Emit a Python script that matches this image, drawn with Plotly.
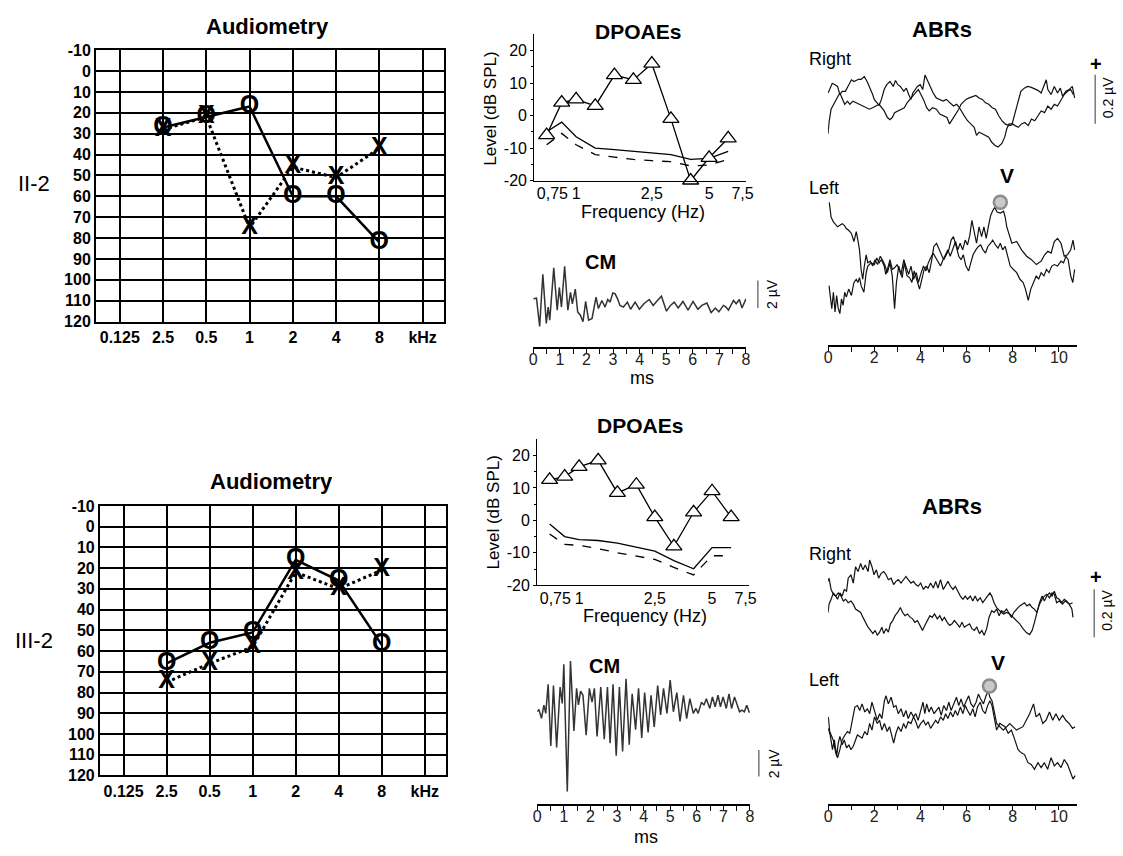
import plotly.graph_objects as go

W, H = 1123, 856
FONT = "Liberation Sans, Arial, Helvetica, sans-serif"

# ------------------------------------------------------------------ data
aud_freq_labels = ["0.125", "2.5", "0.5", "1", "2", "4", "8", "kHz"]
aud_test_freqs = ["2.5", "0.5", "1", "2", "4", "8"]
aud_db_ticks = list(range(-10, 121, 10))
II2_right_O = [27, 22, 17, 60, 60, 82]
II2_left_X = [28, 22, 75, 46, 51, 37]
III2_right_O = [66, 56, 51, 16, 26, 57]
III2_left_X = [75, 66, 58, 22, 30, 21]

dp_freq = [0.70, 0.84, 1.0, 1.26, 1.59, 2.0, 2.5, 3.15, 4.0, 5.0, 6.3]
dp_tick_vals = [0.75, 1, 2.5, 5, 7.5]
dp_tick_text = ["0,75", "1", "2,5", "5", "7,5"]
dp_level_ticks = [-20, -10, 0, 10, 20]
II2_dp = [-6, 4, 5, 3, 12.5, 11, 16, -1, -20, -13, -7]
II2_noise = [-5, -2, -6.5, -10, -10.5, -11, -11.5, -12, -13.5, -13.2, -11]
II2_noise_floor = [-9, -5.5, -9, -12, -12.8, -13.5, -13.9, -14.2, -15.5, -15.2, -13.5]
III2_dp = [12.5, 13.5, 16.5, 18.5, 8.5, 11, 1, -8, 2.5, 9, 1]
III2_noise = [-1.1, -5, -5.9, -6.2, -7, -8.2, -9.5, -12.4, -14.9, -8.4, -8.4]
III2_noise_floor = [-4.2, -7.4, -7.7, -8.7, -10, -11, -12, -14.5, -16.8, -10.9, -10.9]

II2_cm_ms = [0, 0.12, 0.24, 0.36, 0.49, 0.56, 0.62, 0.77, 0.9, 0.98, 1.06, 1.18, 1.3, 1.4, 1.47,
             1.58, 1.67, 1.77, 1.87, 1.97, 2.08, 2.21, 2.36, 2.45, 2.58, 2.7, 2.8, 2.89, 2.99, 3.08,
             3.17, 3.26, 3.39, 3.54, 3.66, 3.83, 3.99, 4.16, 4.36, 4.51, 4.67, 4.82, 5.01, 5.16, 5.3,
             5.45, 5.63, 5.82, 6.01, 6.19, 6.34, 6.53, 6.69, 6.85, 6.98, 7.15, 7.25, 7.34, 7.53, 7.63,
             7.75, 7.85, 8.0]
II2_cm_uv = [0, 0.05, -2.02, 1.79, -1.79, -0.6, -1.55, 2.26, -0.83, 0.83, -0.6, 2.38, -0.83, 0.48, -0.36,
             0.71, -0.95, -1.19, -1.67, -0.19, -1.55, -1.43, 0.12, -0.71, -0.12, -0.6, -0.05, -0.24, 0.43, 0.36,
             0, -0.48, -0.6, -0.24, -0.76, -0.24, -0.76, -0.36, -0.05, -0.48, -0.12, 0.19, -0.9, -0.48, -0.24,
             -0.67, -0.19, -0.83, -0.19, -0.76, -0.48, -0.31, -1.0, -0.67, -0.95, -0.48, -0.6, -0.83, -0.12, -0.36,
             -0.05, -0.67, 0]

III2_cm_ms = [0, 0.06, 0.16, 0.25, 0.32, 0.41, 0.51, 0.61, 0.73, 0.86, 0.94, 1.0, 1.13, 1.25, 1.38,
              1.48, 1.55, 1.63, 1.72, 1.84, 1.96, 2.06, 2.15, 2.25, 2.39, 2.52, 2.64, 2.74, 2.85, 2.97,
              3.09, 3.21, 3.34, 3.46, 3.57, 3.7, 3.81, 3.93, 4.04, 4.17, 4.28, 4.4, 4.53, 4.64, 4.75,
              4.88, 5.0, 5.12, 5.25, 5.37, 5.5, 5.62, 5.74, 5.87, 5.97, 6.05, 6.18, 6.27, 6.36, 6.49,
              6.59, 6.69, 6.8, 6.89, 6.99, 7.11, 7.21, 7.31, 7.42, 7.51, 7.61, 7.7, 7.79, 7.88, 7.98]
III2_cm_uv = [0, 0.17, -0.48, 0.48, -0.12, 2.0, -2.5, 1.9, -2.6, 1.8, 0.6, 3.45, -5.8, 3.7, -1.4,
              1.7, 0.5, 1.5, 1.2, -1.7, 1.7, 0.7, 1.7, -1.8, 1.8, -2.0, 1.8, -2.3, 2.0, -3.2,
              1.8, -2.9, 2.4, -2.4, 1.3, -1.3, 1.7, -1.9, 1.4, -1.5, 1.2, -1.1, 1.9, -0.24, 1.7,
              -0.12, 2.3, 0, 1.4, -0.7, 1.2, -0.5, 0.95, -0.12, 0.24, -0.12, 0.7, 0.48, 0.95, 0.24,
              1.07, 0.36, 1.2, 0.36, 1.07, 0.24, 1.3, 0.24, 1.07, 0.48, 0, 0.12, 0, 0.48, -0.07]

# ABR traces (ms, uV)
II2_right_a_ms = [0, 0.04, 0.13, 0.23, 0.33, 0.41, 0.51, 0.61, 0.72, 0.84, 0.94, 1.08, 1.22, 1.36, 1.5,
                  1.65, 1.79, 1.93, 2.07, 2.21, 2.43, 2.57, 2.68, 2.78, 2.88, 3.02, 3.16, 3.3, 3.42, 3.53,
                  3.63, 3.77, 3.91, 4.03, 4.13, 4.27, 4.38, 4.52, 4.69, 4.84, 4.98, 5.15, 5.26, 5.4, 5.55,
                  5.66, 5.76, 5.83, 5.97, 6.11, 6.26, 6.4, 6.54, 6.68, 6.82, 6.96, 7.11, 7.25, 7.39, 7.53,
                  7.67, 7.82, 7.96, 8.03, 8.13, 8.24, 8.35, 8.5, 8.64, 8.78, 8.95, 9.09, 9.23, 9.35, 9.45,
                  9.52, 9.66, 9.8, 9.94, 10.06, 10.16, 10.3, 10.44, 10.58, 10.68]
II2_right_a_uv = [-0.153, -0.107, -0.053, -0.033, -0.02, -0.003, 0.013, -0.007, -0.033, -0.02, -0.033, -0.02, -0.027, -0.033, -0.04,
                  -0.047, -0.053, -0.047, -0.04, -0.033, -0.06, -0.087, -0.096, -0.087, -0.067, -0.06, -0.053, -0.047, -0.027, -0.013,
                  0, 0.013, 0.027, 0.007, -0.013, -0.047, -0.06, -0.047, -0.053, -0.073, -0.08, -0.087, -0.113, -0.093, -0.073,
                  -0.053, -0.033, -0.027, -0.013, -0.007, -0.003, 0.003, -0.007, -0.013, -0.027, -0.033, -0.047, -0.053, -0.08, -0.1,
                  -0.113, -0.12, -0.117, -0.093, -0.053, -0.013, 0.02, 0.033, 0.04, 0.037, 0.029, 0.024, 0.013, 0.04, 0.067,
                  0.027, 0.007, 0.04, 0.013, 0.033, 0, 0.02, 0.027, 0.04, -0.007]
II2_right_b_ms = [0, 0.09, 0.18, 0.3, 0.41, 0.51, 0.61, 0.75, 0.87, 1.01, 1.12, 1.22, 1.32, 1.43, 1.57,
                  1.69, 1.79, 1.93, 2.0, 2.11, 2.21, 2.31, 2.43, 2.54, 2.68, 2.82, 2.92, 3.02, 3.13, 3.28,
                  3.39, 3.49, 3.59, 3.67, 3.77, 3.87, 3.99, 4.1, 4.2, 4.3, 4.41, 4.55, 4.69, 4.84, 4.98,
                  5.12, 5.26, 5.43, 5.57, 5.69, 5.9, 6.04, 6.18, 6.33, 6.43, 6.54, 6.68, 6.82, 6.96, 7.08,
                  7.22, 7.36, 7.53, 7.65, 7.74, 7.84, 7.99, 8.1, 8.24, 8.38, 8.52, 8.67, 8.81, 8.95, 9.09,
                  9.23, 9.38, 9.52, 9.66, 9.8, 9.94, 10.09, 10.23, 10.37, 10.51, 10.62]
II2_right_b_uv = [0.013, 0.033, 0.053, 0.047, 0.04, 0.007, 0.02, 0.02, 0.04, 0.067, 0.06, 0.064, 0.069, 0.069, 0.08,
                  0.06, 0.04, 0.007, -0.013, -0.027, -0.037, -0.013, 0.027, 0.047, 0.06, 0.04, 0.064, 0.047, 0.04, 0.02,
                  0.033, 0.007, -0.013, 0.013, 0.027, 0.04, 0.047, 0.027, 0.087, 0.067, 0.04, 0.013, -0.007, -0.013, -0.02,
                  -0.013, -0.027, -0.04, -0.033, -0.047, -0.08, -0.1, -0.113, -0.127, -0.16, -0.147, -0.153, -0.16, -0.167, -0.187,
                  -0.2, -0.207, -0.193, -0.167, -0.133, -0.113, -0.113, -0.12, -0.127, -0.113, -0.107, -0.12, -0.093, -0.1, -0.08,
                  -0.06, -0.067, -0.04, -0.053, -0.033, -0.04, -0.013, 0.007, 0.02, 0.027, 0.007]

II2_left_a_ms = [0.05, 0.13, 0.23, 0.3, 0.41, 0.51, 0.61, 0.7, 0.79, 0.89, 1.01, 1.12, 1.22, 1.29, 1.36,
                 1.43, 1.5, 1.57, 1.65, 1.72, 1.83, 1.93, 2.03, 2.14, 2.26, 2.35, 2.45, 2.57, 2.68, 2.78,
                 2.88, 2.96, 3.06, 3.16, 3.28, 3.39, 3.49, 3.59, 3.7, 3.82, 3.91, 4.01, 4.13, 4.24, 4.34,
                 4.44, 4.55, 4.67, 4.77, 4.87, 4.98, 5.09, 5.19, 5.29, 5.4, 5.52, 5.62, 5.72, 5.83, 5.94,
                 6.04, 6.14, 6.23, 6.33, 6.43, 6.54, 6.65, 6.75, 6.85, 6.94, 7.04, 7.13, 7.22, 7.32, 7.46,
                 7.6, 7.67, 7.74, 7.84, 7.96, 8.17, 8.38, 8.6, 8.81, 9.02, 9.23, 9.38, 9.52, 9.66, 9.8,
                 9.94, 10.09, 10.23, 10.37, 10.51, 10.61, 10.68]
II2_left_a_uv = [0.287, 0.227, 0.207, 0.2, 0.187, 0.193, 0.2, 0.193, 0.18, 0.173, 0.16, 0.127, 0.167, 0.133, 0.093,
                 0.013, -0.027, 0.027, 0.073, 0.04, 0.047, 0.027, 0.053, 0.033, 0.067, 0.053, 0.033, 0, 0.04, -0.013,
                 -0.147, -0.04, 0.027, -0.007, 0.053, 0.02, -0.007, 0.027, -0.027, 0, -0.04, -0.007, 0.027, 0.007, 0.04,
                 0.06, 0.08, 0.06, 0.04, 0.027, 0.053, 0.073, 0.093, 0.067, 0.1, 0.127, 0.093, 0.12, 0.093, 0.133,
                 0.113, 0.153, 0.213, 0.16, 0.12, 0.187, 0.147, 0.187, 0.14, 0.187, 0.233, 0.253, 0.267, 0.247, 0.243,
                 0.251, 0.227, 0.187, 0.16, 0.12, 0.127, 0.093, 0.067, 0.053, 0.033, 0.047, 0.073, 0.087, 0.08, 0.127,
                 0.14, 0.12, 0.067, 0.073, 0.093, 0.133, 0.093]
II2_left_b_ms = [0.04, 0.09, 0.16, 0.23, 0.3, 0.37, 0.44, 0.51, 0.58, 0.65, 0.72, 0.79, 0.89, 1.01, 1.12,
                 1.22, 1.29, 1.36, 1.43, 1.55, 1.65, 1.72, 1.86, 2.0, 2.11, 2.21, 2.31, 2.43, 2.5, 2.57,
                 2.68, 2.78, 2.88, 2.99, 3.11, 3.21, 3.3, 3.42, 3.53, 3.63, 3.73, 3.84, 3.96, 4.06, 4.16,
                 4.27, 4.38, 4.48, 4.58, 4.7, 4.81, 4.91, 5.01, 5.12, 5.23, 5.33, 5.43, 5.55, 5.66, 5.76,
                 5.86, 5.97, 6.09, 6.18, 6.28, 6.4, 6.51, 6.61, 6.71, 6.82, 6.92, 7.04, 7.13, 7.25, 7.36,
                 7.46, 7.56, 7.67, 7.79, 7.89, 8.03, 8.17, 8.31, 8.45, 8.55, 8.67, 8.78, 8.89, 9.02, 9.12,
                 9.23, 9.35, 9.46, 9.57, 9.69, 9.8, 9.94, 10.09, 10.2, 10.3, 10.4, 10.51, 10.6, 10.68]
II2_left_b_uv = [-0.053, -0.093, -0.147, -0.08, -0.16, -0.093, -0.147, -0.167, -0.107, -0.133, -0.08, -0.1, -0.067, -0.093, -0.04,
                 -0.027, -0.04, -0.02, -0.053, -0.08, 0, 0.027, 0.04, 0.033, 0.06, 0.04, 0.053, 0.027, -0.007, 0.013,
                 0.053, 0.013, 0.02, 0.033, 0, -0.02, 0.04, -0.013, -0.02, -0.04, 0.007, -0.027, -0.067, -0.027, 0.013,
                 0.027, 0, 0.047, 0.107, 0.12, 0.093, 0.073, 0.053, 0.073, 0.093, 0.133, 0.147, 0.107, 0.067, 0.053,
                 0.073, 0.027, 0.007, 0.04, 0.073, 0.093, 0.107, 0.113, 0.093, 0.08, 0.107, 0.12, 0.133, 0.113, 0.1,
                 0.12, 0.093, 0.107, 0.067, 0.027, 0.013, 0, -0.027, -0.04, -0.067, -0.113, -0.067, -0.04, -0.013, -0.027,
                 0, -0.013, 0.013, 0, 0.027, 0.033, 0.027, 0.047, 0.04, 0.067, 0.053, -0.013, -0.04, 0.013]

III2_right_a_ms = [0, 0.04, 0.13, 0.23, 0.33, 0.41, 0.51, 0.61, 0.7, 0.8, 0.87, 0.99, 1.09, 1.19, 1.3,
                   1.41, 1.51, 1.61, 1.73, 1.8, 1.9, 1.99, 2.09, 2.19, 2.3, 2.41, 2.51, 2.61, 2.73, 2.84,
                   2.94, 3.04, 3.16, 3.27, 3.37, 3.47, 3.59, 3.7, 3.8, 3.9, 4.01, 4.13, 4.23, 4.33, 4.44,
                   4.56, 4.66, 4.76, 4.87, 4.99, 5.09, 5.19, 5.3, 5.41, 5.51, 5.61, 5.73, 5.84, 5.94, 6.04,
                   6.16, 6.27, 6.37, 6.47, 6.59, 6.7, 6.8, 6.9, 7.01, 7.09, 7.19, 7.3, 7.41, 7.51, 7.61,
                   7.73, 7.87, 8.01, 8.16, 8.3, 8.44, 8.59, 8.73, 8.84, 8.94, 9.04, 9.16, 9.27, 9.37, 9.47,
                   9.59, 9.7, 9.8, 9.9, 10.01, 10.13, 10.23, 10.33, 10.44, 10.56, 10.61]
III2_right_a_uv = [-0.067, -0.033, -0.013, 0.013, 0, -0.013, 0.013, 0, 0.027, 0.02, 0.073, 0.087, 0.053, 0.12, 0.1,
                   0.133, 0.107, 0.127, 0.1, 0.147, 0.12, 0.087, 0.107, 0.073, 0.093, 0.1, 0.087, 0.067, 0.073, 0.047,
                   0.06, 0.067, 0.053, 0.067, 0.08, 0.067, 0.053, 0.06, 0.047, 0.04, 0.053, 0.027, 0.04, 0.033, 0.053,
                   0.033, 0.06, 0.033, 0.067, 0.027, 0.047, 0.06, 0.04, 0.027, 0.04, 0.02, 0, -0.013, 0, -0.013,
                   0, -0.02, 0, -0.02, -0.007, -0.027, -0.013, 0, 0.013, 0, -0.027, -0.047, -0.06, -0.067, -0.073,
                   -0.067, -0.073, -0.087, -0.1, -0.113, -0.133, -0.149, -0.157, -0.14, -0.107, -0.067, -0.027, 0, -0.02, 0,
                   0.013, 0, 0.02, -0.007, -0.013, -0.027, -0.013, -0.02, -0.033, -0.053, -0.087]
III2_right_b_ms = [0, 0.04, 0.13, 0.23, 0.33, 0.44, 0.56, 0.66, 0.76, 0.87, 0.99, 1.09, 1.19, 1.3, 1.41,
                   1.51, 1.61, 1.73, 1.84, 1.94, 2.04, 2.13, 2.23, 2.33, 2.41, 2.51, 2.61, 2.7, 2.8, 2.9,
                   3.01, 3.13, 3.23, 3.33, 3.44, 3.56, 3.66, 3.76, 3.87, 3.99, 4.09, 4.19, 4.3, 4.41, 4.51,
                   4.61, 4.73, 4.84, 4.94, 5.04, 5.16, 5.27, 5.37, 5.47, 5.59, 5.7, 5.8, 5.9, 6.01, 6.13,
                   6.23, 6.33, 6.44, 6.56, 6.66, 6.76, 6.87, 6.97, 7.09, 7.19, 7.3, 7.41, 7.51, 7.61, 7.73,
                   7.84, 7.94, 8.04, 8.16, 8.3, 8.41, 8.51, 8.61, 8.73, 8.84, 8.94, 9.04, 9.16, 9.27, 9.37,
                   9.47, 9.59, 9.7, 9.8, 9.9, 10.01, 10.16, 10.27, 10.37, 10.47, 10.59]
III2_right_b_uv = [0.06, 0.073, 0.027, 0.007, 0, 0.013, 0, -0.02, -0.013, -0.027, -0.02, -0.033, -0.053, -0.06, -0.067,
                   -0.087, -0.107, -0.127, -0.14, -0.153, -0.14, -0.16, -0.147, -0.127, -0.153, -0.133, -0.147, -0.113, -0.1, -0.08,
                   -0.067, -0.047, -0.067, -0.08, -0.073, -0.087, -0.093, -0.107, -0.1, -0.12, -0.14, -0.12, -0.1, -0.08, -0.087,
                   -0.073, -0.093, -0.08, -0.1, -0.087, -0.107, -0.12, -0.113, -0.1, -0.113, -0.127, -0.107, -0.127, -0.12, -0.113,
                   -0.133, -0.14, -0.127, -0.153, -0.14, -0.16, -0.133, -0.087, -0.06, -0.067, -0.053, -0.08, -0.06, -0.067, -0.053,
                   -0.073, -0.087, -0.067, -0.053, -0.04, -0.033, -0.027, -0.04, -0.033, -0.047, -0.053, -0.067, -0.033, -0.013, 0,
                   0.007, -0.007, 0.013, 0.007, -0.027, -0.02, -0.033, -0.02, -0.027, -0.033, -0.027]

III2_left_a_ms = [0.01, 0.07, 0.16, 0.24, 0.33, 0.41, 0.51, 0.61, 0.73, 0.84, 0.94, 1.04, 1.16, 1.27, 1.37,
                  1.47, 1.59, 1.7, 1.8, 1.9, 2.01, 2.13, 2.23, 2.33, 2.44, 2.51, 2.61, 2.73, 2.84, 2.94,
                  3.04, 3.16, 3.27, 3.37, 3.47, 3.59, 3.7, 3.8, 3.9, 4.01, 4.11, 4.19, 4.27, 4.37, 4.47,
                  4.59, 4.7, 4.8, 4.9, 5.01, 5.13, 5.23, 5.33, 5.44, 5.56, 5.66, 5.76, 5.87, 5.99, 6.09,
                  6.19, 6.3, 6.41, 6.51, 6.61, 6.73, 6.84, 6.94, 7.01, 7.1, 7.19, 7.3, 7.59, 7.87, 8.16,
                  8.44, 8.73, 8.9, 9.01, 9.16, 9.3, 9.44, 9.59, 9.73, 9.87, 10.01, 10.16, 10.3, 10.44, 10.59,
                  10.7]
III2_left_a_uv = [0.067, 0.007, -0.013, -0.033, -0.08, -0.1, -0.067, -0.027, -0.007, 0.007, 0, 0.053, 0.107, 0.113, 0.093,
                  0.12, 0.087, 0.1, 0.08, 0.127, 0.093, 0.053, 0.08, 0.06, 0.133, 0.153, 0.12, 0.147, 0.107, 0.113,
                  0.08, 0.1, 0.067, 0.093, 0.06, 0.087, 0.067, 0.08, 0.053, 0.093, 0.127, 0.08, 0.12, 0.087, 0.107,
                  0.08, 0.093, 0.107, 0.073, 0.113, 0.093, 0.127, 0.093, 0.12, 0.147, 0.113, 0.14, 0.107, 0.133, 0.153,
                  0.12, 0.107, 0.127, 0.16, 0.14, 0.12, 0.153, 0.173, 0.147, 0.133, 0.093, 0.04, 0.013, 0.04, 0.013,
                  0.027, 0.08, 0.12, 0.067, 0.08, 0.04, 0.053, 0.087, 0.053, 0.08, 0.053, 0.073, 0.053, 0.04, 0.02,
                  0.027]
III2_left_b_ms = [0.01, 0.09, 0.19, 0.27, 0.37, 0.44, 0.51, 0.61, 0.7, 0.8, 0.9, 0.99, 1.09, 1.19, 1.27,
                  1.37, 1.47, 1.59, 1.7, 1.8, 1.9, 2.01, 2.13, 2.23, 2.33, 2.44, 2.56, 2.66, 2.76, 2.84,
                  2.94, 3.04, 3.16, 3.27, 3.37, 3.47, 3.59, 3.7, 3.8, 3.9, 4.01, 4.13, 4.23, 4.33, 4.44,
                  4.56, 4.66, 4.76, 4.87, 4.99, 5.09, 5.19, 5.3, 5.41, 5.51, 5.61, 5.73, 5.84, 5.94, 6.04,
                  6.16, 6.27, 6.37, 6.47, 6.59, 6.7, 6.81, 6.91, 7.01, 7.1, 7.19, 7.3, 7.44, 7.66, 7.8,
                  7.94, 8.09, 8.23, 8.37, 8.51, 8.66, 8.8, 8.94, 9.09, 9.23, 9.37, 9.51, 9.66, 9.8, 9.94,
                  10.09, 10.23, 10.37, 10.51, 10.61, 10.7]
III2_left_b_uv = [0.02, -0.007, -0.067, -0.027, -0.093, -0.04, -0.013, -0.047, -0.027, -0.06, -0.047, -0.067, -0.053, -0.027, -0.007,
                  -0.013, -0.02, 0.007, -0.007, 0.04, 0.013, 0.067, 0.04, 0.053, 0.013, 0.04, 0.007, 0.027, -0.013, -0.04,
                  0, 0.027, 0.007, 0.04, 0.02, 0.047, 0.04, 0.067, 0.047, 0.02, 0.04, 0.053, 0.033, 0.047, 0.02,
                  0.04, 0.053, 0.04, 0.067, 0.053, 0.08, 0.06, 0.087, 0.067, 0.093, 0.073, 0.107, 0.08, 0.113, 0.093,
                  0.073, 0.1, 0.067, 0.107, 0.127, 0.093, 0.08, 0.113, 0.133, 0.113, 0.073, 0.013, 0.04, 0.027, 0,
                  0.013, -0.027, -0.067, -0.08, -0.087, -0.12, -0.127, -0.147, -0.12, -0.14, -0.12, -0.147, -0.1, -0.133, -0.12,
                  -0.14, -0.107, -0.127, -0.16, -0.187, -0.173]

wave_V_ms = [7.46, 6.99]      # II-2, III-2 (left ear)
wave_V_uv = [0.287, 0.193]

# ------------------------------------------------------------------ helpers (page pixels -> paper)
def px(x):
    return x / W


def py(y):
    return 1 - y / H


def dx(a, b):
    return [px(a), px(b)]


def dy(top, bottom):
    return [py(bottom), py(top)]


fig = go.Figure()
annotations = []
shapes = []


def ann(text, x, y, size, bold=False, angle=0, xanchor="center", color="black"):
    annotations.append(dict(text=text, x=px(x), y=py(y), xref="paper", yref="paper",
                            showarrow=False, xanchor=xanchor, yanchor="middle", textangle=angle,
                            font=dict(family=FONT, size=size, color=color,
                                      weight="bold" if bold else "normal")))


layout = dict(width=W, height=H, margin=dict(l=0, r=0, t=0, b=0, pad=0),
              paper_bgcolor="white", plot_bgcolor="white", showlegend=False,
              font=dict(family=FONT, color="black"))

# ------------------------------------------------------------------ audiograms
aud_x = [aud_freq_labels.index(f) for f in aud_test_freqs]
aud_boxes = [(93, 445, 43, 320), (97, 447, 508, 783)]
aud_sets = [(II2_right_O, II2_left_X), (III2_right_O, III2_left_X)]
for i, (box, (ovals, xvals)) in enumerate(zip(aud_boxes, aud_sets)):
    n = "" if i == 0 else str(i + 1)
    xa, ya = "x" + n, "y" + n
    layout["xaxis" + n] = dict(domain=dx(box[0], box[1]), anchor=ya, range=[-0.55, 7.5],
                               tickvals=list(range(len(aud_freq_labels))), ticktext=aud_freq_labels,
                               showgrid=True, gridcolor="black", gridwidth=2, zeroline=False,
                               showline=True, linecolor="black", linewidth=2, mirror=True, ticks="",
                               tickfont=dict(family=FONT, size=16, color="black", weight="bold"))
    layout["yaxis" + n] = dict(domain=dy(box[2], box[3]), anchor=xa, range=[120, -10],
                               tickvals=aud_db_ticks, ticktext=[str(v) for v in aud_db_ticks],
                               showgrid=True, gridcolor="black", gridwidth=2, zeroline=False,
                               showline=True, linecolor="black", linewidth=2, mirror=True, ticks="",
                               tickfont=dict(family=FONT, size=16, color="black", weight="bold"))
    fig.add_trace(go.Scatter(x=aud_x, y=xvals, mode="lines+text", text=["X"] * len(xvals),
                             textposition="middle center", cliponaxis=False,
                             textfont=dict(family=FONT, size=25, color="black", weight="bold"),
                             line=dict(color="black", width=3, dash="dot"), xaxis=xa, yaxis=ya))
    fig.add_trace(go.Scatter(x=aud_x, y=ovals, mode="lines+text", text=["O"] * len(ovals),
                             textposition="middle center", cliponaxis=False,
                             textfont=dict(family=FONT, size=25, color="black", weight="bold"),
                             line=dict(color="black", width=2.5), xaxis=xa, yaxis=ya))

ann("Audiometry", 266, 19, 22, bold=True)
ann("Audiometry", 270, 483, 22, bold=True)
ann("II-2", 30, 179, 22)
ann("III-2", 30, 645, 22)

# ------------------------------------------------------------------ DPOAEs
dp_boxes = [(536, 750, 27, 176, "3"), (539, 753, 440, 589, "5")]
dp_sets = [(II2_dp, II2_noise, II2_noise_floor), (III2_dp, III2_noise, III2_noise_floor)]
for box, (dpv, nz, nzf) in zip(dp_boxes, dp_sets):
    n = box[4]
    xa, ya = "x" + n, "y" + n
    layout["xaxis" + n] = dict(domain=dx(box[0], box[1]), anchor=ya, type="log", range=[-0.22, 0.893],
                               tickvals=dp_tick_vals, ticktext=dp_tick_text, showgrid=False,
                               zeroline=False, showline=True, linecolor="black", linewidth=1.3,
                               ticks="", ticklabelstandoff=-2,
                               tickfont=dict(family=FONT, size=16, color="black"))
    layout["yaxis" + n] = dict(domain=dy(box[2], box[3]), anchor=xa, range=[-20, 25],
                               tickvals=dp_level_ticks, ticktext=[str(v) for v in dp_level_ticks],
                               showgrid=False, zeroline=False, showline=True, linecolor="black",
                               linewidth=1.3, ticks="outside", ticklen=3, tickcolor="black",
                               minor=dict(tickvals=[-15, -5, 5, 15], ticks="outside", ticklen=2,
                                          tickcolor="black"),
                               tickfont=dict(family=FONT, size=16, color="black"))
    fig.add_trace(go.Scatter(x=dp_freq, y=nzf, mode="lines", line=dict(color="black", width=1.3, dash="dash"),
                             xaxis=xa, yaxis=ya))
    fig.add_trace(go.Scatter(x=dp_freq, y=nz, mode="lines", line=dict(color="black", width=1.3),
                             xaxis=xa, yaxis=ya))
    fig.add_trace(go.Scatter(x=dp_freq, y=dpv, mode="lines+markers", cliponaxis=False,
                             line=dict(color="black", width=1.3),
                             marker=dict(symbol="triangle-up", size=14, color="white",
                                         line=dict(color="black", width=1.3)),
                             xaxis=xa, yaxis=ya))

ann("DPOAEs", 641, 24, 21, bold=True)
ann("DPOAEs", 643, 426, 21, bold=True)
ann("Level (dB SPL)", 492, 103, 17, angle=-90)
ann("Level (dB SPL)", 495, 515, 17, angle=-90)
ann("Frequency (Hz)", 646, 208, 18)
ann("Frequency (Hz)", 648, 620, 18)

# ------------------------------------------------------------------ CM
cm_boxes = [(535, 750, 250, 345.7, "4", [-3.5, 3.34]), (539, 754, 660, 812, "6", [-6.71, 4.14])]
cm_sets = [(II2_cm_ms, II2_cm_uv), (III2_cm_ms, III2_cm_uv)]
for box, (t, v) in zip(cm_boxes, cm_sets):
    n = box[4]
    xa, ya = "x" + n, "y" + n
    layout["xaxis" + n] = dict(domain=dx(box[0], box[1]), anchor=ya, range=[0, 8], tickvals=list(range(9)),
                               showgrid=False, zeroline=False, showline=True, linecolor="black", linewidth=1.5,
                               ticks="outside", ticklen=5, tickwidth=1.3, tickcolor="black",
                               ticklabelstandoff=-8,
                               minor=dict(dtick=0.5, tick0=0, ticks="outside", ticklen=5, tickcolor="black"),
                               tickfont=dict(family=FONT, size=16, color="#222"))
    layout["yaxis" + n] = dict(domain=dy(box[2], box[3]), anchor=xa, range=box[5], visible=False)
    fig.add_trace(go.Scatter(x=t, y=v, mode="lines", line=dict(color="#333", width=1.5),
                             xaxis=xa, yaxis=ya))

ann("CM", 603, 259, 20, bold=True)
ann("CM", 607, 671, 20, bold=True)
ann("ms", 645, 377, 18)
ann("ms", 649, 846, 18)
shapes.append(dict(type="line", xref="paper", yref="paper", x0=px(762), x1=px(762), y0=py(278), y1=py(306),
                   line=dict(color="#777", width=1.5)))
shapes.append(dict(type="line", xref="paper", yref="paper", x0=px(763), x1=px(763), y0=py(757), y1=py(784),
                   line=dict(color="#777", width=1.5)))
ann("2 µV", 777, 292, 14, angle=-90)
ann("2 µV", 778, 771, 14, angle=-90)

# ------------------------------------------------------------------ ABRs
abr_panels = [
    ("7", (45, 150), [-0.24, 0.18], [(II2_right_a_ms, II2_right_a_uv), (II2_right_b_ms, II2_right_b_uv)], False),
    ("8", (180, 344.3), [-0.297, 0.36], [(II2_left_a_ms, II2_left_a_uv), (II2_left_b_ms, II2_left_b_uv)], True),
    ("9", (555, 650), [-0.2, 0.18], [(III2_right_a_ms, III2_right_a_uv), (III2_right_b_ms, III2_right_b_uv)], False),
    ("10", (670, 811.7), [-0.287, 0.28], [(III2_left_a_ms, III2_left_a_uv), (III2_left_b_ms, III2_left_b_uv)], True),
]
v_idx = 0
for n, (top, bot), yr, traces, show_x in abr_panels:
    xa, ya = "x" + n, "y" + n
    xd = dict(domain=dx(833, 1085), anchor=ya, range=[0, 10.8], showgrid=False, zeroline=False)
    if show_x:
        xd.update(showline=True, linecolor="black", linewidth=1.5, tickvals=[0, 2, 4, 6, 8, 10],
                  ticks="outside", ticklen=5, tickwidth=1.3, tickcolor="black", ticklabelstandoff=-8,
                  minor=dict(dtick=1, tick0=0, ticks="outside", ticklen=5, tickcolor="black"),
                  tickfont=dict(family=FONT, size=16, color="#222"))
    else:
        xd.update(visible=False)
    layout["xaxis" + n] = xd
    layout["yaxis" + n] = dict(domain=dy(top, bot), anchor=xa, range=yr, visible=False)
    for t, v in traces:
        fig.add_trace(go.Scatter(x=t, y=v, mode="lines", line=dict(color="#111", width=1.2),
                                 xaxis=xa, yaxis=ya))
    if show_x:
        fig.add_trace(go.Scatter(x=[wave_V_ms[v_idx]], y=[wave_V_uv[v_idx]], mode="markers", cliponaxis=False,
                                 marker=dict(size=13, color="#c9c9c9", line=dict(color="#8c8c8c", width=2.5)),
                                 xaxis=xa, yaxis=ya))
        v_idx += 1

ann("ABRs", 948, 22, 22, bold=True)
ann("ABRs", 958, 509, 22, bold=True)
ann("Right", 812, 52, 18, xanchor="left")
ann("Left", 812, 184, 18, xanchor="left")
ann("Right", 812, 557, 18, xanchor="left")
ann("Left", 812, 686, 18, xanchor="left")
ann("V", 1014, 171, 21, bold=True)
ann("V", 1005, 668, 21, bold=True)
ann("+", 1104, 57, 20, bold=True)
ann("+", 1104, 581, 20, bold=True)
shapes.append(dict(type="line", xref="paper", yref="paper", x0=px(1103), x1=px(1103), y0=py(68), y1=py(118),
                   line=dict(color="#777", width=1.5)))
shapes.append(dict(type="line", xref="paper", yref="paper", x0=px(1102), x1=px(1102), y0=py(593), y1=py(642),
                   line=dict(color="#777", width=1.5)))
ann("0.2 µV", 1116, 92, 14, angle=-90)
ann("0.2 µV", 1115, 615, 14, angle=-90)

layout["annotations"] = annotations
layout["shapes"] = shapes
fig.update_layout(**layout)

fig.write_html("out.html", config={"displayModeBar": False},
               post_script="document.body.style.margin='0px';document.body.style.overflow='hidden';")
